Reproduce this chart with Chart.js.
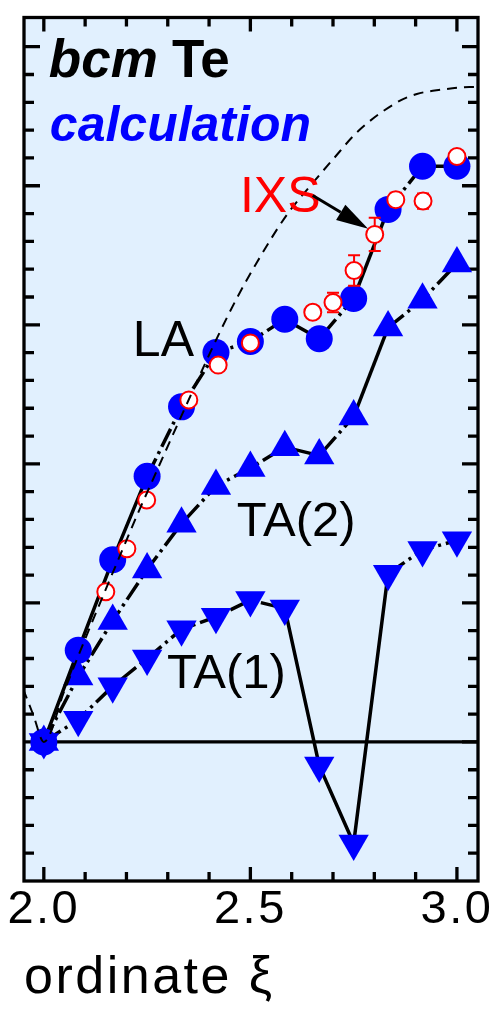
<!DOCTYPE html>
<html>
<head>
<meta charset="utf-8">
<script src="https://cdn.jsdelivr.net/npm/chart.js@4.4.0/dist/chart.umd.min.js"></script>
<style>
  html, body { margin: 0; padding: 0; background: #fff; }
</style>
</head>
<body>
<canvas id="dispersion" width="499" height="1010"></canvas>
<script>
// calculated branches, step 1/12 along the reduced coordinate
const xi = [2.0, 2.0833, 2.1667, 2.25, 2.3333, 2.4167, 2.5, 2.5833, 2.6667, 2.75, 2.8333, 2.9167, 3.0];
const laCalc = [0, 0.66, 1.31, 1.91, 2.41, 2.80, 2.88, 3.04, 2.90, 3.19, 3.83, 4.14, 4.14];
const ta2Calc = [0, 0.47, 0.87, 1.24, 1.57, 1.84, 1.97, 2.12, 2.06, 2.34, 2.98, 3.18, 3.44];
const ta1Calc = [0, 0.16, 0.40, 0.60, 0.81, 0.90, 1.02, 0.96, -0.17, -0.73, 1.21, 1.38, 1.45];

// IXS measurement
const ixsXi = [2.150, 2.201, 2.249, 2.351, 2.422, 2.500, 2.651, 2.700, 2.751, 2.801, 2.852, 2.918, 3.000];
const ixsE = [1.08, 1.39, 1.74, 2.46, 2.71, 2.87, 3.09, 3.16, 3.39, 3.65, 3.90, 3.89, 4.21];
const ixsErr = [0, 0, 0, 0, 0, 0, 0, 0.07, 0.11, 0.12, 0.05, 0.055, 0];

// thin dashed reference curve
const refXi = [1.95, 1.975, 2.0, 2.05, 2.1, 2.18, 2.23, 2.26, 2.305, 2.346, 2.42, 2.467, 2.516, 2.588, 2.651, 2.70, 2.76, 2.855, 2.903, 2.96, 3.03, 3.06];
const refE = [0.38, 0.19, 0, 0.37, 0.74, 1.31, 1.66, 1.86, 2.16, 2.43, 2.91, 3.19, 3.45, 3.79, 4.02, 4.19, 4.39, 4.60, 4.66, 4.69, 4.71, 4.71];

// zero level
const zeroXi = [2.0, 3.1];
const zeroE = [0, 0];

// ticks
const xTickMarks = [2.0, 2.1, 2.2, 2.3, 2.4, 2.5, 2.6, 2.7, 2.8, 2.9, 3.0];
const xLabelled = [2.0, 2.5, 3.0];
const yTickMarks = [-0.8, -0.6, -0.4, -0.2, 0, 0.2, 0.4, 0.6, 0.8, 1.0, 1.2, 1.4, 1.6, 1.8, 2.0,
  2.2, 2.4, 2.6, 2.8, 3.0, 3.2, 3.4, 3.6, 3.8, 4.0, 4.2, 4.4, 4.6, 4.8, 5.0];
const yMajor = [-1, 0, 1, 2, 3, 4, 5];

const FONT = "'Liberation Sans', Arial, sans-serif";
const BLUE = '#0000ff';

function pts(xs, ys) {
  return xs.map((x, i) => ({ x: x, y: ys[i] }));
}

// long segments look solid in the original, short ones dash-dot
function segDash(ctx) {
  const d = Math.hypot(ctx.p1.x - ctx.p0.x, ctx.p1.y - ctx.p0.y);
  return d > 85 ? [] : [20, 5, 3, 5];
}

const frame = {
  id: 'frame',
  beforeDraw(chart) {
    const { ctx, chartArea: a } = chart;
    ctx.save();
    ctx.fillStyle = '#e1f0fe';
    ctx.fillRect(a.left, a.top, a.right - a.left, a.bottom - a.top);
    ctx.restore();
    ctx.letterSpacing = '2.5px';
  },
  beforeDatasetsDraw(chart) {
    const { ctx, chartArea: a, scales } = chart;
    ctx.letterSpacing = '0px';
    ctx.save();
    ctx.strokeStyle = '#000';
    ctx.lineWidth = 3.3;
    ctx.beginPath();
    xTickMarks.forEach(v => {
      const px = scales.x.getPixelForValue(v);
      const len = xLabelled.includes(v) ? 14 : 9;
      ctx.moveTo(px, a.bottom); ctx.lineTo(px, a.bottom - len);
      ctx.moveTo(px, a.top); ctx.lineTo(px, a.top + len);
    });
    yTickMarks.forEach(v => {
      const py = scales.y.getPixelForValue(v);
      const len = yMajor.includes(v) ? 16 : 10;
      ctx.moveTo(a.left, py); ctx.lineTo(a.left + len, py);
      ctx.moveTo(a.right, py); ctx.lineTo(a.right - len, py);
    });
    ctx.stroke();
    ctx.strokeRect(a.left, a.top, a.right - a.left, a.bottom - a.top);
    ctx.restore();
  }
};

const errorBars = {
  id: 'errorBars',
  beforeDatasetDraw(chart, args) {
    if (chart.data.datasets[args.index].label !== 'IXS') return;
    const { ctx, scales } = chart;
    ctx.save();
    ctx.strokeStyle = '#ff0000';
    ctx.lineWidth = 2;
    ctx.beginPath();
    ixsXi.forEach((x, i) => {
      if (!ixsErr[i]) return;
      const px = scales.x.getPixelForValue(x);
      const top = scales.y.getPixelForValue(ixsE[i] + ixsErr[i]);
      const bot = scales.y.getPixelForValue(ixsE[i] - ixsErr[i]);
      ctx.moveTo(px, top); ctx.lineTo(px, bot);
      ctx.moveTo(px - 6, top); ctx.lineTo(px + 6, top);
      ctx.moveTo(px - 6, bot); ctx.lineTo(px + 6, bot);
    });
    ctx.stroke();
    ctx.restore();
  }
};

const notes = [
  { text: 'bcm', xi: 2.012, e: 4.78, font: 'italic bold 53px ' + FONT, color: '#000' },
  { text: 'Te', xi: 2.310, e: 4.78, font: 'bold 53px ' + FONT, color: '#000' },
  { text: 'calculation', xi: 2.0145, e: 4.32, font: 'italic bold 50px ' + FONT, color: BLUE },
  { text: 'IXS', xi: 2.4746, e: 3.814, font: '50px ' + FONT, color: '#ff0000' },
  { text: 'LA', xi: 2.2155, e: 2.779, font: '50px ' + FONT, color: '#000' },
  { text: 'TA(2)', xi: 2.467, e: 1.479, font: '49px ' + FONT, color: '#000' },
  { text: 'TA(1)', xi: 2.298, e: 0.386, font: '49px ' + FONT, color: '#000' }
];

const labels = {
  id: 'labels',
  afterDatasetsDraw(chart) {
    const { ctx, scales } = chart;
    ctx.save();
    ctx.letterSpacing = '0px';
    ctx.textBaseline = 'alphabetic';
    ctx.textAlign = 'left';
    notes.forEach(n => {
      ctx.font = n.font;
      ctx.fillStyle = n.color;
      ctx.fillText(n.text, scales.x.getPixelForValue(n.xi), scales.y.getPixelForValue(n.e));
    });
    // arrow from IXS label to the data
    const x0 = scales.x.getPixelForValue(2.651), y0 = scales.y.getPixelForValue(3.93);
    const x1 = scales.x.getPixelForValue(2.785), y1 = scales.y.getPixelForValue(3.69);
    const ang = Math.atan2(y1 - y0, x1 - x0);
    const head = 32, half = 9;
    const bx = x1 - head * Math.cos(ang), by = y1 - head * Math.sin(ang);
    ctx.strokeStyle = '#000';
    ctx.lineWidth = 3;
    ctx.beginPath();
    ctx.moveTo(x0, y0); ctx.lineTo(bx, by);
    ctx.stroke();
    ctx.fillStyle = '#000';
    ctx.beginPath();
    ctx.moveTo(x1, y1);
    ctx.lineTo(bx + half * Math.sin(ang), by - half * Math.cos(ang));
    ctx.lineTo(bx - half * Math.sin(ang), by + half * Math.cos(ang));
    ctx.closePath();
    ctx.fill();
    ctx.restore();
  }
};

const ctx = document.getElementById('dispersion').getContext('2d');
new Chart(ctx, {
  type: 'line',
  data: {
    datasets: [
      {
        label: 'reference',
        data: pts(refXi, refE),
        borderColor: '#000', borderWidth: 2, borderDash: [10, 7],
        pointRadius: 0, cubicInterpolationMode: 'monotone', order: 0
      },
      {
        label: 'IXS',
        data: pts(ixsXi, ixsE),
        showLine: false,
        pointStyle: 'circle', pointRadius: 8.5,
        pointBackgroundColor: '#fff', pointBorderColor: '#ff0000', pointBorderWidth: 2,
        order: 1
      },
      {
        label: 'LA',
        data: pts(xi, laCalc),
        borderColor: '#000', borderWidth: 3.5,
        segment: { borderDash: segDash },
        pointStyle: 'circle', pointRadius: 13.5,
        pointBackgroundColor: BLUE, pointBorderWidth: 0,
        order: 2
      },
      {
        label: 'TA(2)',
        data: pts(xi, ta2Calc),
        borderColor: '#000', borderWidth: 3.5,
        segment: { borderDash: segDash },
        pointStyle: 'triangle', pointRadius: 17.5,
        pointBackgroundColor: BLUE, pointBorderWidth: 0,
        order: 3
      },
      {
        label: 'TA(1)',
        data: pts(xi, ta1Calc),
        borderColor: '#000', borderWidth: 3.5,
        segment: { borderDash: segDash },
        pointStyle: 'triangle', pointRotation: 180, pointRadius: 17.5,
        pointBackgroundColor: BLUE, pointBorderWidth: 0,
        order: 4
      },
      {
        label: 'zero',
        data: pts(zeroXi, zeroE),
        borderColor: '#000', borderWidth: 3.3,
        pointRadius: 0, order: 5
      }
    ]
  },
  options: {
    responsive: false,
    animation: false,
    layout: { padding: { left: 24, right: 21, top: 10, bottom: 0 } },
    plugins: { legend: { display: false }, tooltip: { enabled: false } },
    scales: {
      x: {
        type: 'linear', position: 'bottom',
        min: 1.952, max: 3.051,
        afterBuildTicks: s => { s.ticks = xTickMarks.map(v => ({ value: v })); },
        afterFit: s => { s.height = 129; s.paddingLeft = 0; s.paddingRight = 0; },
        grid: { display: false, drawTicks: false },
        border: { display: false },
        ticks: {
          autoSkip: false, maxRotation: 0, padding: 1, color: '#000',
          font: { family: FONT, size: 47 },
          callback: v => xLabelled.includes(v) ? v.toFixed(1) : ''
        },
        title: {
          display: true, text: 'ordinate ξ', align: 'start', color: '#000',
          font: { family: FONT, size: 52 }, padding: 0
        }
      },
      y: { type: 'linear', min: -1.0, max: 5.21, display: false }
    }
  },
  plugins: [frame, errorBars, labels]
});
</script>
</body>
</html>
